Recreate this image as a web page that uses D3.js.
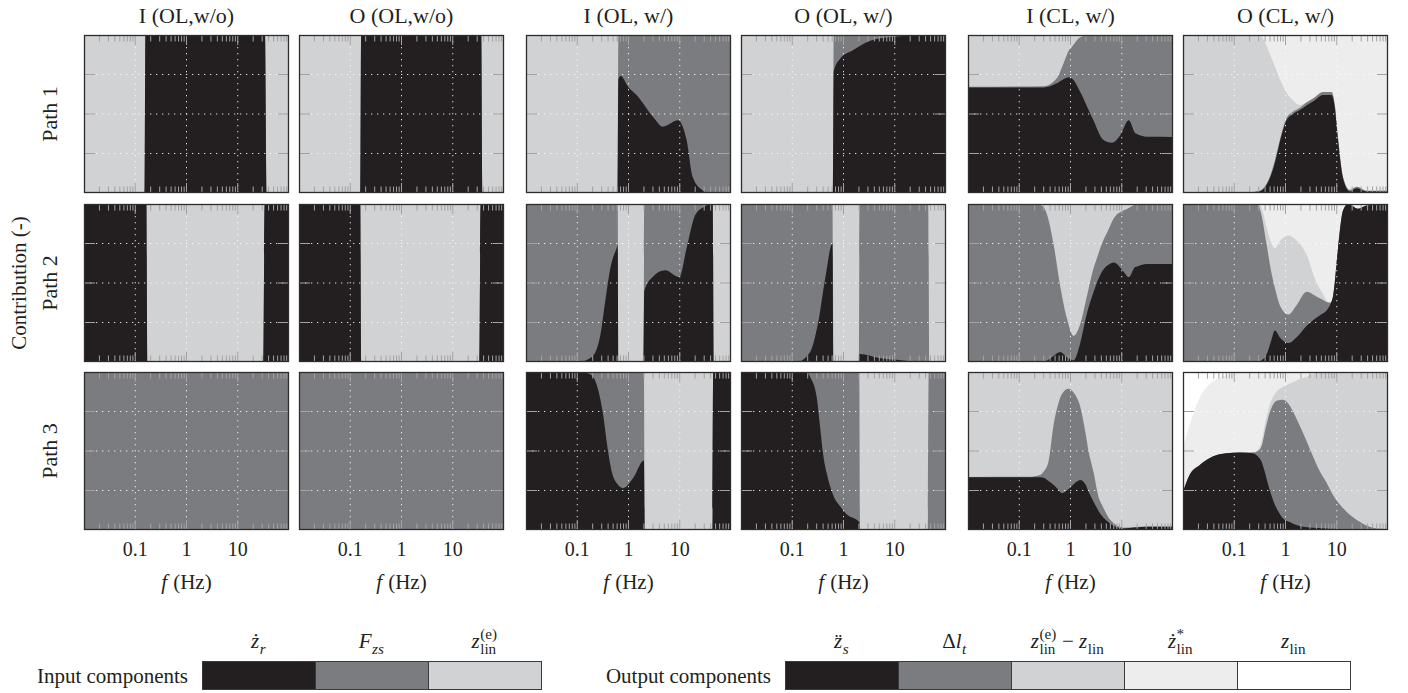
<!DOCTYPE html>
<html>
<head>
<meta charset="utf-8">
<script src="https://cdn.jsdelivr.net/npm/d3@7"></script>
<style>
  body { margin: 0; background: #fff; }
  text { font-family: "Liberation Serif", "Times New Roman", serif; fill: #231f20; }
</style>
</head>
<body>
<svg id="viz_area"></svg>
<script>
// ---- labels ----
const columnTitles = ['I (OL,w/o)', 'O (OL,w/o)', 'I (OL, w/)', 'O (OL, w/)', 'I (CL, w/)', 'O (CL, w/)']
const rowTitles = ['Path 1', 'Path 2', 'Path 3']
const freqTickLabels = [0.1, 1, 10]
const contributionTicks = [0.25, 0.5, 0.75]

const inputKeys = ['zr', 'fzs', 'zle']
const outputKeys = ['zs', 'dlt', 'zleDiff', 'zStar', 'zlin']

// ---- Path 1 ----
const p1_iOLwo_f = [0.01, 0.152, 0.158, 34, 36.5, 100]
const p1_iOLwo_zr = [0, 0, 1, 1, 0, 0]
const p1_iOLwo_zle = [1, 1, 0, 0, 1, 1]

const p1_oOLwo_f = [0.01, 0.157, 0.163, 36, 38.5, 100]
const p1_oOLwo_zs = [0, 0, 1, 1, 0, 0]
const p1_oOLwo_zleDiff = [1, 1, 0, 0, 1, 1]

const p1_iOLw_f = [0.01, 0.61, 0.635, 0.7, 1.0, 1.44, 3.05, 4.7, 9.25, 13.6, 18, 27, 39, 100]
const p1_iOLw_zr = [0, 0, 0.72, 0.74, 0.67, 0.62, 0.48, 0.42, 0.46, 0.335, 0.10, 0.02, 0, 0]
const p1_iOLw_fzs = [0, 0, 0.28, 0.26, 0.33, 0.38, 0.52, 0.58, 0.54, 0.665, 0.90, 0.98, 1, 1]
const p1_iOLw_zle = [1, 1, 0, 0, 0, 0, 0, 0, 0, 0, 0, 0, 0, 0]

const p1_oOLw_f = [0.01, 0.62, 0.645, 0.86, 1.55, 3.8, 11, 30, 100]
const p1_oOLw_zs = [0, 0, 0.77, 0.85, 0.905, 0.97, 0.99, 1, 1]
const p1_oOLw_dlt = [0, 0, 0.23, 0.15, 0.095, 0.03, 0.01, 0, 0]
const p1_oOLw_zleDiff = [1, 1, 0, 0, 0, 0, 0, 0, 0]

const p1_iCLw_f = [0.01, 0.3, 0.54, 0.73, 0.92, 1.07, 1.55, 2.45, 2.8, 4.4, 6.5, 9.4, 13.7, 18.5, 31.5, 100]
const p1_iCLw_zr = [0.667, 0.668, 0.694, 0.72, 0.732, 0.725, 0.64, 0.50, 0.46, 0.335, 0.318, 0.367, 0.46, 0.378, 0.356, 0.355]
const p1_iCLw_fzs = [0.005, 0.007, 0.032, 0.10, 0.168, 0.201, 0.345, 0.50, 0.54, 0.665, 0.682, 0.633, 0.54, 0.622, 0.644, 0.645]
const p1_iCLw_zle = [0.328, 0.325, 0.274, 0.18, 0.10, 0.074, 0.015, 0, 0, 0, 0, 0, 0, 0, 0, 0]

const p1_oCLw_f = [0.01, 0.13, 0.31, 0.49, 0.62, 0.8, 1.05, 1.4, 1.9, 2.6, 3.5, 5.4, 7.9, 9.1, 10.6, 13.3, 18, 24.5, 38, 100]
const p1_oCLw_zs = [0, 0, 0.01, 0.09, 0.19, 0.34, 0.46, 0.5, 0.525, 0.555, 0.58, 0.62, 0.62, 0.546, 0.33, 0.09, 0.01, 0.03, 0.01, 0.01]
const p1_oCLw_dlt = [0, 0, 0.005, 0.01, 0.015, 0.015, 0.015, 0.015, 0.015, 0.02, 0.02, 0.02, 0.02, 0.02, 0.02, 0.01, 0.01, 0.01, 0.005, 0.005]
const p1_oCLw_zleDiff = [1, 1, 0.985, 0.784, 0.595, 0.355, 0.16, 0.07, 0.017, 0, 0, 0, 0, 0, 0, 0, 0, 0, 0, 0]
const p1_oCLw_zStar = [0, 0, 0, 0.116, 0.20, 0.29, 0.365, 0.415, 0.443, 0.425, 0.40, 0.36, 0.36, 0.434, 0.65, 0.90, 0.98, 0.96, 0.985, 0.985]

// ---- Path 2 ----
const p2_iOLwo_f = [0.01, 0.165, 0.172, 31.5, 33.5, 100]
const p2_iOLwo_zr = [1, 1, 0, 0, 1, 1]
const p2_iOLwo_zle = [0, 0, 1, 1, 0, 0]

const p2_oOLwo_f = [0.01, 0.157, 0.163, 33, 35, 100]
const p2_oOLwo_zs = [1, 1, 0, 0, 1, 1]
const p2_oOLwo_zleDiff = [0, 0, 1, 1, 0, 0]

const p2_iOLw_f = [0.01, 0.105, 0.19, 0.28, 0.35, 0.44, 0.6, 0.615, 0.635, 1.97, 2.03, 3.0, 5.2, 9.8, 13.6, 20, 28.8, 44, 46, 100]
const p2_iOLw_zr = [0, 0, 0.03, 0.165, 0.38, 0.59, 0.73, 0.74, 0, 0, 0.45, 0.54, 0.58, 0.537, 0.72, 0.93, 0.98, 1, 0, 0]
const p2_iOLw_fzs = [1, 1, 0.97, 0.835, 0.62, 0.41, 0.27, 0.26, 0, 0, 0.55, 0.46, 0.42, 0.463, 0.28, 0.07, 0.02, 0, 0, 0]
const p2_iOLw_zle = [0, 0, 0, 0, 0, 0, 0, 0, 1, 1, 0, 0, 0, 0, 0, 0, 0, 0, 1, 1]

const p2_oOLw_f = [0.01, 0.122, 0.22, 0.32, 0.44, 0.61, 0.64, 1.99, 2.06, 5, 14.5, 35, 45, 47.5, 100]
const p2_oOLw_zs = [0, 0, 0.06, 0.25, 0.53, 0.75, 0, 0, 0.05, 0.025, 0.01, 0, 0, 0, 0]
const p2_oOLw_dlt = [1, 1, 0.94, 0.75, 0.47, 0.25, 0, 0, 0.95, 0.975, 0.99, 1, 1, 0, 0]
const p2_oOLw_zleDiff = [0, 0, 0, 0, 0, 0, 1, 1, 0, 0, 0, 0, 0, 1, 1]

const p2_iCLw_f = [0.01, 0.22, 0.30, 0.35, 0.47, 0.63, 0.86, 1.15, 1.55, 2.1, 2.8, 3.3, 4.5, 5.2, 7, 11, 13.7, 18, 20, 31, 100]
const p2_iCLw_zr = [0, 0, 0.002, 0.01, 0.04, 0.064, 0.03, 0.01, 0.12, 0.31, 0.44, 0.505, 0.59, 0.61, 0.63, 0.57, 0.537, 0.6, 0.605, 0.62, 0.62]
const p2_iCLw_fzs = [1, 1, 0.978, 0.92, 0.70, 0.416, 0.24, 0.155, 0.12, 0.11, 0.15, 0.155, 0.19, 0.21, 0.28, 0.39, 0.438, 0.395, 0.395, 0.38, 0.38]
const p2_iCLw_zle = [0, 0, 0.02, 0.07, 0.26, 0.52, 0.73, 0.835, 0.76, 0.58, 0.41, 0.34, 0.22, 0.18, 0.09, 0.04, 0.025, 0.005, 0, 0, 0]

const p2_oCLw_f = [0.01, 0.29, 0.34, 0.43, 0.52, 0.62, 0.8, 1.15, 1.63, 2.6, 4.0, 5.2, 6.3, 7.6, 8.5, 10.6, 13.3, 16.7, 26, 38, 100]
const p2_oCLw_zs = [0, 0.002, 0.01, 0.05, 0.13, 0.20, 0.15, 0.12, 0.155, 0.23, 0.28, 0.305, 0.325, 0.37, 0.42, 0.72, 0.96, 1.0, 0.97, 0.99, 1.0]
const p2_oCLw_dlt = [1, 0.998, 0.92, 0.69, 0.45, 0.27, 0.20, 0.18, 0.202, 0.215, 0.135, 0.09, 0.055, 0.005, 0, 0, 0, 0, 0, 0, 0]
const p2_oCLw_zleDiff = [0, 0, 0.05, 0.11, 0.18, 0.25, 0.42, 0.50, 0.413, 0.23, 0.09, 0.045, 0.01, 0, 0, 0, 0, 0, 0, 0, 0]
const p2_oCLw_zStar = [0, 0, 0.02, 0.15, 0.24, 0.28, 0.23, 0.20, 0.23, 0.325, 0.495, 0.56, 0.61, 0.625, 0.58, 0.28, 0.04, 0, 0.03, 0.01, 0]

// ---- Path 3 ----
const p3_iOLwo_f = [0.01, 100]
const p3_iOLwo_fzs = [1, 1]

const p3_oOLwo_f = [0.01, 100]
const p3_oOLwo_dlt = [1, 1]

const p3_iOLw_f = [0.01, 0.122, 0.19, 0.26, 0.32, 0.39, 0.47, 0.63, 0.79, 1.24, 2.0, 2.08, 43.5, 45, 100]
const p3_iOLw_zr = [1, 1, 0.98, 0.88, 0.73, 0.52, 0.37, 0.285, 0.265, 0.33, 0.44, 0, 0, 1, 1]
const p3_iOLw_fzs = [0, 0, 0.02, 0.12, 0.27, 0.48, 0.63, 0.715, 0.735, 0.67, 0.56, 0, 0, 0, 0]
const p3_iOLw_zle = [0, 0, 0, 0, 0, 0, 0, 0, 0, 0, 0, 1, 1, 0, 0]

const p3_oOLw_f = [0.01, 0.19, 0.23, 0.30, 0.35, 0.40, 0.47, 0.63, 0.86, 1.15, 2.03, 2.1, 44, 46, 100]
const p3_oOLw_zs = [1, 1, 0.96, 0.84, 0.65, 0.48, 0.36, 0.22, 0.15, 0.10, 0.05, 0, 0, 0, 0]
const p3_oOLw_dlt = [0, 0, 0.04, 0.16, 0.35, 0.52, 0.64, 0.78, 0.85, 0.90, 0.95, 0, 0, 1, 1]
const p3_oOLw_zleDiff = [0, 0, 0, 0, 0, 0, 0, 0, 0, 0, 0, 1, 1, 0, 0]

const p3_iCLw_f = [0.01, 0.15, 0.26, 0.30, 0.37, 0.47, 0.58, 0.68, 0.92, 1.15, 1.55, 1.95, 2.25, 2.8, 3.6, 4.1, 6.0, 11, 31, 100]
const p3_iCLw_zr = [0.334, 0.334, 0.334, 0.33, 0.31, 0.285, 0.255, 0.233, 0.26, 0.29, 0.317, 0.29, 0.243, 0.18, 0.116, 0.09, 0.04, 0.01, 0.02, 0.02]
const p3_iCLw_fzs = [0.002, 0.003, 0.016, 0.04, 0.12, 0.385, 0.545, 0.627, 0.634, 0.58, 0.463, 0.33, 0.257, 0.19, 0.084, 0.07, 0.023, 0.005, 0.002, 0.002]
const p3_iCLw_zle = [0.664, 0.663, 0.65, 0.63, 0.57, 0.33, 0.20, 0.14, 0.106, 0.13, 0.22, 0.38, 0.50, 0.63, 0.80, 0.84, 0.937, 0.985, 0.978, 0.978]

const p3_oCLw_f = [0.01, 0.0135, 0.021, 0.038, 0.07, 0.13, 0.23, 0.29, 0.34, 0.40, 0.46, 0.53, 0.62, 0.78, 0.89, 1.2, 1.4, 1.9, 2.6, 3.5, 4.7, 6.3, 8.5, 15.5, 28, 51, 100]
const p3_oCLw_zs = [0.243, 0.35, 0.41, 0.465, 0.486, 0.49, 0.486, 0.465, 0.433, 0.36, 0.285, 0.22, 0.16, 0.10, 0.074, 0.05, 0.04, 0.025, 0.018, 0.015, 0.012, 0.01, 0.008, 0.005, 0.003, 0.001, 0]
const p3_oCLw_dlt = [0, 0, 0, 0, 0, 0, 0.004, 0.035, 0.097, 0.27, 0.425, 0.55, 0.65, 0.722, 0.75, 0.74, 0.71, 0.635, 0.542, 0.445, 0.358, 0.29, 0.212, 0.111, 0.05, 0.014, 0.005]
const p3_oCLw_zleDiff = [0, 0, 0, 0, 0, 0, 0.002, 0.01, 0.03, 0.05, 0.05, 0.05, 0.05, 0.073, 0.081, 0.135, 0.185, 0.295, 0.41, 0.53, 0.625, 0.70, 0.78, 0.884, 0.947, 0.985, 0.995]
const p3_oCLw_zStar = [0.277, 0.316, 0.425, 0.475, 0.494, 0.51, 0.508, 0.49, 0.44, 0.32, 0.24, 0.18, 0.14, 0.105, 0.095, 0.075, 0.065, 0.045, 0.03, 0.01, 0.005, 0, 0, 0, 0, 0, 0]
const p3_oCLw_zlin = [0.48, 0.334, 0.165, 0.06, 0.02, 0, 0, 0, 0, 0, 0, 0, 0, 0, 0, 0, 0, 0, 0, 0, 0, 0, 0, 0, 0, 0, 0]

// ---- layout & style ----
const colX = [84, 299, 526, 741, 968, 1183]
const rowY = [35, 204, 372]
const panelW = 205
const panelH = 158

const inputColors = ['#231f20', '#7b7c80', '#d1d2d4']
const outputColors = ['#231f20', '#7b7c80', '#d1d2d4', '#ededee', '#ffffff']

const panels = [
  [
    { f: p1_iOLwo_f, s: { zr: p1_iOLwo_zr, zle: p1_iOLwo_zle }, io: 'in' },
    { f: p1_oOLwo_f, s: { zs: p1_oOLwo_zs, zleDiff: p1_oOLwo_zleDiff }, io: 'out' },
    { f: p1_iOLw_f, s: { zr: p1_iOLw_zr, fzs: p1_iOLw_fzs, zle: p1_iOLw_zle }, io: 'in' },
    { f: p1_oOLw_f, s: { zs: p1_oOLw_zs, dlt: p1_oOLw_dlt, zleDiff: p1_oOLw_zleDiff }, io: 'out' },
    { f: p1_iCLw_f, s: { zr: p1_iCLw_zr, fzs: p1_iCLw_fzs, zle: p1_iCLw_zle }, io: 'in' },
    { f: p1_oCLw_f, s: { zs: p1_oCLw_zs, dlt: p1_oCLw_dlt, zleDiff: p1_oCLw_zleDiff, zStar: p1_oCLw_zStar }, io: 'out' }
  ],
  [
    { f: p2_iOLwo_f, s: { zr: p2_iOLwo_zr, zle: p2_iOLwo_zle }, io: 'in' },
    { f: p2_oOLwo_f, s: { zs: p2_oOLwo_zs, zleDiff: p2_oOLwo_zleDiff }, io: 'out' },
    { f: p2_iOLw_f, s: { zr: p2_iOLw_zr, fzs: p2_iOLw_fzs, zle: p2_iOLw_zle }, io: 'in' },
    { f: p2_oOLw_f, s: { zs: p2_oOLw_zs, dlt: p2_oOLw_dlt, zleDiff: p2_oOLw_zleDiff }, io: 'out' },
    { f: p2_iCLw_f, s: { zr: p2_iCLw_zr, fzs: p2_iCLw_fzs, zle: p2_iCLw_zle }, io: 'in' },
    { f: p2_oCLw_f, s: { zs: p2_oCLw_zs, dlt: p2_oCLw_dlt, zleDiff: p2_oCLw_zleDiff, zStar: p2_oCLw_zStar }, io: 'out' }
  ],
  [
    { f: p3_iOLwo_f, s: { fzs: p3_iOLwo_fzs }, io: 'in' },
    { f: p3_oOLwo_f, s: { dlt: p3_oOLwo_dlt }, io: 'out' },
    { f: p3_iOLw_f, s: { zr: p3_iOLw_zr, fzs: p3_iOLw_fzs, zle: p3_iOLw_zle }, io: 'in' },
    { f: p3_oOLw_f, s: { zs: p3_oOLw_zs, dlt: p3_oOLw_dlt, zleDiff: p3_oOLw_zleDiff }, io: 'out' },
    { f: p3_iCLw_f, s: { zr: p3_iCLw_zr, fzs: p3_iCLw_fzs, zle: p3_iCLw_zle }, io: 'in' },
    { f: p3_oCLw_f, s: { zs: p3_oCLw_zs, dlt: p3_oCLw_dlt, zleDiff: p3_oCLw_zleDiff, zStar: p3_oCLw_zStar, zlin: p3_oCLw_zlin }, io: 'out' }
  ]
]

const svg = d3.select('#viz_area').attr('width', 1408).attr('height', 693)

const xScale = d3.scaleLog().domain([0.01, 100]).range([0, panelW])
const yScale = d3.scaleLinear().domain([0, 1]).range([panelH, 0])

const defs = svg.append('defs')
defs.append('clipPath').attr('id', 'panel-clip')
  .append('rect').attr('width', panelW).attr('height', panelH)

panels.forEach(function (row, r) {
  row.forEach(function (p, c) {
    drawPanel(p, colX[c], rowY[r])
  })
})

function drawPanel(p, px, py) {
  const keys = p.io === 'in' ? inputKeys : outputKeys
  const colors = p.io === 'in' ? inputColors : outputColors

  const rows = p.f.map(function (f, i) {
    const d = { f: f }
    keys.forEach(function (k) { d[k] = p.s[k] ? p.s[k][i] : 0 })
    return d
  })
  const layers = d3.stack().keys(keys)(rows)

  const g = svg.append('g').attr('transform', 'translate(' + px + ',' + py + ')')
  const plot = g.append('g').attr('clip-path', 'url(#panel-clip)')

  // painter order: top layer first, each filled from zero up to its cumulative top
  const area = d3.area()
    .x(function (d) { return xScale(d.data.f) })
    .y0(yScale(0))
    .y1(function (d) { return yScale(d[1]) })
    .curve(d3.curveMonotoneX)

  for (let i = layers.length - 1; i >= 0; i--) {
    const hasAny = d3.max(layers[i], function (d) { return d[1] }) > 0
    if (!hasAny) continue
    plot.append('path')
      .datum(layers[i])
      .attr('d', area)
      .attr('fill', colors[i])
  }

  // dotted grid
  plot.selectAll('.vgrid').data(freqTickLabels).enter().append('line')
    .attr('x1', function (d) { return xScale(d) }).attr('x2', function (d) { return xScale(d) })
    .attr('y1', 0).attr('y2', panelH)
    .attr('stroke', '#ffffff').attr('stroke-opacity', 0.85)
    .attr('stroke-width', 1).attr('stroke-dasharray', '1.3,4.7')
  plot.selectAll('.hgrid').data(contributionTicks).enter().append('line')
    .attr('y1', function (d) { return yScale(d) }).attr('y2', function (d) { return yScale(d) })
    .attr('x1', 0).attr('x2', panelW)
    .attr('stroke', '#ffffff').attr('stroke-opacity', 0.85)
    .attr('stroke-width', 1).attr('stroke-dasharray', '1.3,4.7')

  // log ticks top and bottom
  const allTicks = xScale.ticks()
  allTicks.forEach(function (t) {
    const major = Math.abs(Math.log10(t) - Math.round(Math.log10(t))) < 1e-9
    const len = major ? 10 : 6.5
    const x = xScale(t)
    plot.append('line').attr('x1', x).attr('x2', x).attr('y1', 0).attr('y2', len)
      .attr('stroke', '#a3a3a5').attr('stroke-width', 1)
    plot.append('line').attr('x1', x).attr('x2', x).attr('y1', panelH).attr('y2', panelH - len)
      .attr('stroke', '#a3a3a5').attr('stroke-width', 1)
  })
  contributionTicks.forEach(function (t) {
    const y = yScale(t)
    plot.append('line').attr('x1', 0).attr('x2', 11).attr('y1', y).attr('y2', y)
      .attr('stroke', '#a3a3a5').attr('stroke-width', 1)
    plot.append('line').attr('x1', panelW - 11).attr('x2', panelW).attr('y1', y).attr('y2', y)
      .attr('stroke', '#a3a3a5').attr('stroke-width', 1)
  })

  g.append('rect')
    .attr('x', 0.5).attr('y', 0.5)
    .attr('width', panelW - 1).attr('height', panelH - 1)
    .attr('fill', 'none').attr('stroke', '#2e2b2c').attr('stroke-width', 1.3)
}

// column titles
columnTitles.forEach(function (t, c) {
  svg.append('text')
    .attr('x', colX[c] + panelW / 2).attr('y', 23)
    .attr('text-anchor', 'middle').attr('font-size', 22)
    .text(t)
})

// x axes tick labels and titles under bottom row
colX.forEach(function (cx) {
  const axisG = svg.append('g').attr('transform', 'translate(' + cx + ',' + (rowY[2] + panelH) + ')')
  axisG.selectAll('text.tick').data(freqTickLabels).enter().append('text')
    .attr('x', function (d) { return xScale(d) })
    .attr('y', 26)
    .attr('text-anchor', 'middle').attr('font-size', 20)
    .text(function (d) { return d3.format('~g')(d) })
  const lab = axisG.append('text')
    .attr('x', panelW / 2).attr('y', 59)
    .attr('text-anchor', 'middle').attr('font-size', 21)
  lab.append('tspan').attr('font-style', 'italic').text('f')
  lab.append('tspan').attr('dx', 6).text('(Hz)')
})

// row titles
rowTitles.forEach(function (t, r) {
  svg.append('text')
    .attr('transform', 'translate(57,' + (rowY[r] + panelH / 2) + ') rotate(-90)')
    .attr('text-anchor', 'middle').attr('font-size', 22)
    .text(t)
})
svg.append('text')
  .attr('transform', 'translate(26,' + (rowY[1] + panelH / 2) + ') rotate(-90)')
  .attr('text-anchor', 'middle').attr('font-size', 21)
  .text('Contribution (-)')

// ---- legends ----
const inputLegendLabels = [
  [{ t: 'ż', it: true, sub: 'r', subIt: true }],
  [{ t: 'F', it: true, sub: 'zs', subIt: true }],
  [{ t: 'z', it: true, sub: 'lin', sup: '(e)' }]
]
const outputLegendLabels = [
  [{ t: 'z\u0308', it: true, sub: 's', subIt: true }],
  [{ t: 'Δ' }, { t: 'l', it: true, sub: 't', subIt: true }],
  [{ t: 'z', it: true, sub: 'lin', sup: '(e)' }, { t: ' − ' }, { t: 'z', it: true, sub: 'lin' }],
  [{ t: 'ż', it: true, sub: 'lin', sup: '*' }],
  [{ t: 'z', it: true, sub: 'lin' }]
]

drawLegend('Input components', 202, inputColors, inputLegendLabels)
drawLegend('Output components', 785, outputColors, outputLegendLabels)

function drawLegend(name, x0, colors, labels) {
  const segW = 113, top = 661, h = 28
  svg.append('text')
    .attr('x', x0 - 14).attr('y', 683)
    .attr('text-anchor', 'end').attr('font-size', 21)
    .text(name)
  colors.forEach(function (col, i) {
    svg.append('rect')
      .attr('x', x0 + i * segW + 0.5).attr('y', top + 0.5)
      .attr('width', segW).attr('height', h)
      .attr('fill', col).attr('stroke', '#3a3a3a').attr('stroke-width', 1)
    drawMath(x0 + i * segW + segW / 2, 648, labels[i], 21)
  })
}

function drawMath(cx, baseline, tokens, size) {
  const grp = svg.append('g')
  let x = 0
  tokens.forEach(function (tok) {
    const t = grp.append('text').attr('x', x).attr('y', 0)
      .attr('font-size', size).attr('font-style', tok.it ? 'italic' : 'normal')
      .attr('xml:space', 'preserve')
      .text(tok.t)
    x += t.node().getComputedTextLength()
    let w = 0
    if (tok.sub) {
      const s = grp.append('text').attr('x', x + 0.5).attr('y', size * 0.3)
        .attr('font-size', size * 0.72).attr('font-style', tok.subIt ? 'italic' : 'normal')
        .text(tok.sub)
      w = Math.max(w, s.node().getComputedTextLength())
    }
    if (tok.sup) {
      const s = grp.append('text').attr('x', x + 0.5).attr('y', -size * 0.45)
        .attr('font-size', size * 0.72)
        .text(tok.sup)
      w = Math.max(w, s.node().getComputedTextLength())
    }
    x += w > 0 ? w + 1 : 0
  })
  grp.attr('transform', 'translate(' + (cx - x / 2) + ',' + baseline + ')')
}
</script>
</body>
</html>
